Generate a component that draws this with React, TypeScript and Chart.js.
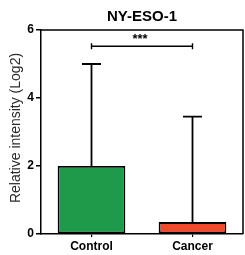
import React, { useEffect, useRef } from "react";
import { Chart, registerables } from "chart.js";

Chart.register(...registerables);

const categories = ["Control", "Cancer"];
const means = [2.0, 0.35];
const upperErrors = [5.0, 3.45];
const barColors = ["#1f9a4a", "#f04a2c"];
const yTicks = [0, 2, 4, 6];
const chartTitle = "NY-ESO-1";
const yTitle = "Relative intensity (Log2)";
const sigPair = [0, 1];
const sigLevel = 5.52;
const sigLabel = "***";

const FONT = "'Liberation Sans', Arial, sans-serif";

export default function App() {
  const ref = useRef<HTMLCanvasElement>(null);
  useEffect(() => {
    document.body.style.margin = "0";
    const canvas = ref.current!;
    const overlay = {
      id: "overlay",
      afterDatasetsDraw(chart: any) {
        const ctx = chart.ctx;
        const xs = chart.scales.x;
        const ys = chart.scales.y;
        const ca = chart.chartArea;
        ctx.save();
        ctx.strokeStyle = "#000";
        ctx.lineWidth = 1.8;
        // error bars
        means.forEach((m, i) => {
          const x = xs.getPixelForValue(i);
          const y0 = ys.getPixelForValue(m);
          const y1 = ys.getPixelForValue(upperErrors[i]);
          ctx.beginPath();
          ctx.moveTo(x, y0);
          ctx.lineTo(x, y1);
          ctx.moveTo(x - 9.5, y1);
          ctx.lineTo(x + 9.5, y1);
          ctx.stroke();
        });
        // frame top/right
        ctx.lineWidth = 1.5;
        ctx.beginPath();
        ctx.moveTo(ca.left, ca.top);
        ctx.lineTo(ca.right, ca.top);
        ctx.lineTo(ca.right, ca.bottom);
        ctx.stroke();
        // significance bracket
        const xa = xs.getPixelForValue(sigPair[0]);
        const xb = xs.getPixelForValue(sigPair[1]);
        const yb = ys.getPixelForValue(sigLevel);
        ctx.lineWidth = 1.4;
        ctx.beginPath();
        ctx.moveTo(xa, yb);
        ctx.lineTo(xb, yb);
        ctx.moveTo(xa, yb - 3);
        ctx.lineTo(xa, yb + 3);
        ctx.moveTo(xb, yb - 3);
        ctx.lineTo(xb, yb + 3);
        ctx.stroke();
        ctx.fillStyle = "#000";
        ctx.font = `bold 13px ${FONT}`;
        ctx.textAlign = "center";
        ctx.textBaseline = "middle";
        ctx.fillText(sigLabel, (xa + xb) / 2 - 2, yb - 7);
        // title
        ctx.font = `bold 15px ${FONT}`;
        ctx.fillText(chartTitle, (ca.left + ca.right) / 2, 17);
        // y title
        ctx.font = `14px ${FONT}`;
        ctx.fillStyle = "#2a2a2a";
        ctx.translate(16, 128);
        ctx.rotate(-Math.PI / 2);
        ctx.fillText(yTitle, 0, 0);
        ctx.restore();
      },
    };
    const chart = new Chart(canvas, {
      type: "bar",
      data: {
        labels: categories,
        datasets: [
          {
            data: means,
            backgroundColor: barColors,
            borderColor: "#000",
            borderWidth: 1.8,
            borderSkipped: false,
            barPercentage: 0.67,
            categoryPercentage: 1,
          },
        ],
      },
      options: {
        responsive: false,
        animation: false,
        layout: { padding: { top: 30, right: 2, left: 0, bottom: 0 } },
        plugins: { legend: { display: false }, tooltip: { enabled: false }, title: { display: false } },
        scales: {
          x: {
            afterFit(scale: any) {
              scale.height = 21;
            },
            grid: { display: true, drawOnChartArea: false, drawTicks: true, tickLength: 3, offset: false, color: "#000", lineWidth: 1.2 },
            border: { display: true, color: "#000", width: 1.5 },
            ticks: { color: "#000", font: { family: FONT, size: 12, weight: "bold" }, padding: 2 },
          },
          y: {
            min: 0,
            max: 6,
            afterFit(scale: any) {
              scale.width = 41;
            },
            afterBuildTicks(scale: any) {
              scale.ticks = yTicks.map((v) => ({ value: v }));
            },
            grid: { display: true, drawOnChartArea: false, drawTicks: true, tickLength: 5, color: "#000", lineWidth: 1.5 },
            border: { display: true, color: "#000", width: 1.5 },
            ticks: { color: "#000", font: { family: FONT, size: 12, weight: "bold" }, padding: 2 },
          },
        },
      },
      plugins: [overlay],
    } as any);
    return () => chart.destroy();
  }, []);
  return (
    <div style={{ width: 245, height: 255, background: "#fff" }}>
      <canvas ref={ref} width={245} height={255} style={{ display: "block" }} />
    </div>
  );
}
